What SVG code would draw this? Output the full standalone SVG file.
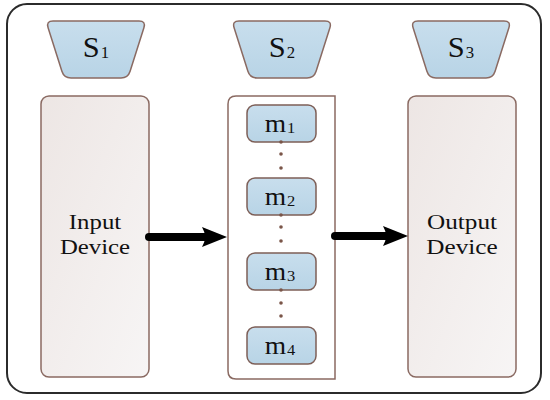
<svg xmlns="http://www.w3.org/2000/svg" width="550" height="400" viewBox="0 0 550 400">
<defs>
<linearGradient id="gBlue" x1="0" y1="0" x2="0" y2="1">
<stop offset="0" stop-color="#c8deed"/>
<stop offset="1" stop-color="#b8d4e6"/>
</linearGradient>
<linearGradient id="gDev" x1="0" y1="0" x2="1" y2="1">
<stop offset="0" stop-color="#ede6e4"/>
<stop offset="1" stop-color="#f7f5f5"/>
</linearGradient>
<path id="trap" d="M-43,0 H43 Q50,0 47.9,6.7 L34.1,50.3 Q32,57 25,57 H-25 Q-32,57 -34.1,50.3 L-47.9,6.7 Q-50,0 -43,0 Z"/>
</defs>
<style>
.frame{fill:#ffffff;stroke:#2b2b2b;stroke-width:2}
.trap{fill:url(#gBlue);stroke:#8a6a62;stroke-width:1.5}
.dev{fill:url(#gDev);stroke:#8a6a62;stroke-width:1.5}
.cont{fill:#ffffff;stroke:#8a6a62;stroke-width:1.5}
.mod{fill:url(#gBlue);stroke:#7d5f57;stroke-width:1.5}
.t{font-family:"Liberation Serif","Times New Roman",serif;fill:#111111;text-anchor:middle}
.dot{fill:#7a5548}
.arr{stroke:#000000;stroke-width:8;stroke-linecap:round;fill:none}
.head{fill:#000000}
</style>
<rect class="frame" x="7" y="4" width="534" height="389" rx="20"/>
<g id="s1">
<use href="#trap" class="trap" transform="translate(96,21)"/>
<text class="t" font-size="29" transform="translate(96,57) scale(1.05,1)">S<tspan font-size="16" dx="1" dy="1">1</tspan></text>
</g>
<g id="s2">
<use href="#trap" class="trap" transform="translate(282,21)"/>
<text class="t" font-size="29" transform="translate(282,57) scale(1.05,1)">S<tspan font-size="16" dx="1" dy="1">2</tspan></text>
</g>
<g id="s3">
<use href="#trap" class="trap" transform="translate(461,21)"/>
<text class="t" font-size="29" transform="translate(461,57) scale(1.05,1)">S<tspan font-size="16" dx="1" dy="1">3</tspan></text>
</g>
<g id="input-device">
<rect class="dev" x="41" y="96" width="108" height="281" rx="8"/>
<text class="t" font-size="21" transform="translate(95,229) scale(1.18,1)">Input</text>
<text class="t" font-size="21" transform="translate(95,254) scale(1.18,1)">Device</text>
</g>
<g id="output-device">
<rect class="dev" x="408" y="96" width="108" height="281" rx="8"/>
<text class="t" font-size="21" transform="translate(462,229) scale(1.2,1)">Output</text>
<text class="t" font-size="21" transform="translate(462,254) scale(1.2,1)">Device</text>
</g>
<g id="middle">
<path class="cont" d="M236,96 H335 V379 H236 Q228,379 228,371 V104 Q228,96 236,96 Z"/>
<g id="m1">
<rect class="mod" x="247" y="105" width="69" height="37" rx="8"/>
<text class="t" font-size="25" transform="translate(280,132) scale(1.1,1)">m<tspan font-size="15" dx="1" dy="1">1</tspan></text>
</g>
<g id="m2">
<rect class="mod" x="247" y="178" width="69" height="37" rx="8"/>
<text class="t" font-size="25" transform="translate(280,205) scale(1.1,1)">m<tspan font-size="15" dx="1" dy="1">2</tspan></text>
</g>
<g id="m3">
<rect class="mod" x="247" y="253" width="69" height="37" rx="8"/>
<text class="t" font-size="25" transform="translate(280,280) scale(1.1,1)">m<tspan font-size="15" dx="1" dy="1">3</tspan></text>
</g>
<g id="m4">
<rect class="mod" x="247" y="327" width="69" height="37" rx="8"/>
<text class="t" font-size="25" transform="translate(280,354) scale(1.1,1)">m<tspan font-size="15" dx="1" dy="1">4</tspan></text>
</g>
<g id="dots">
<circle class="dot" cx="281" cy="142" r="1.8"/>
<circle class="dot" cx="281" cy="154" r="1.8"/>
<circle class="dot" cx="281" cy="168" r="1.8"/>
<circle class="dot" cx="281" cy="215" r="1.8"/>
<circle class="dot" cx="281" cy="227" r="1.8"/>
<circle class="dot" cx="281" cy="241" r="1.8"/>
<circle class="dot" cx="281" cy="290" r="1.8"/>
<circle class="dot" cx="281" cy="303" r="1.8"/>
<circle class="dot" cx="281" cy="316" r="1.8"/>
</g>
</g>
<g id="connectors">
<line class="arr" x1="149" y1="237" x2="210" y2="237"/>
<path class="head" d="M227,237 L202,227 Q208,237 202,247 Z"/>
<line class="arr" x1="335" y1="236" x2="390" y2="236"/>
<path class="head" d="M408,236 L383,226 Q389,236 383,246 Z"/>
</g>
</svg>
